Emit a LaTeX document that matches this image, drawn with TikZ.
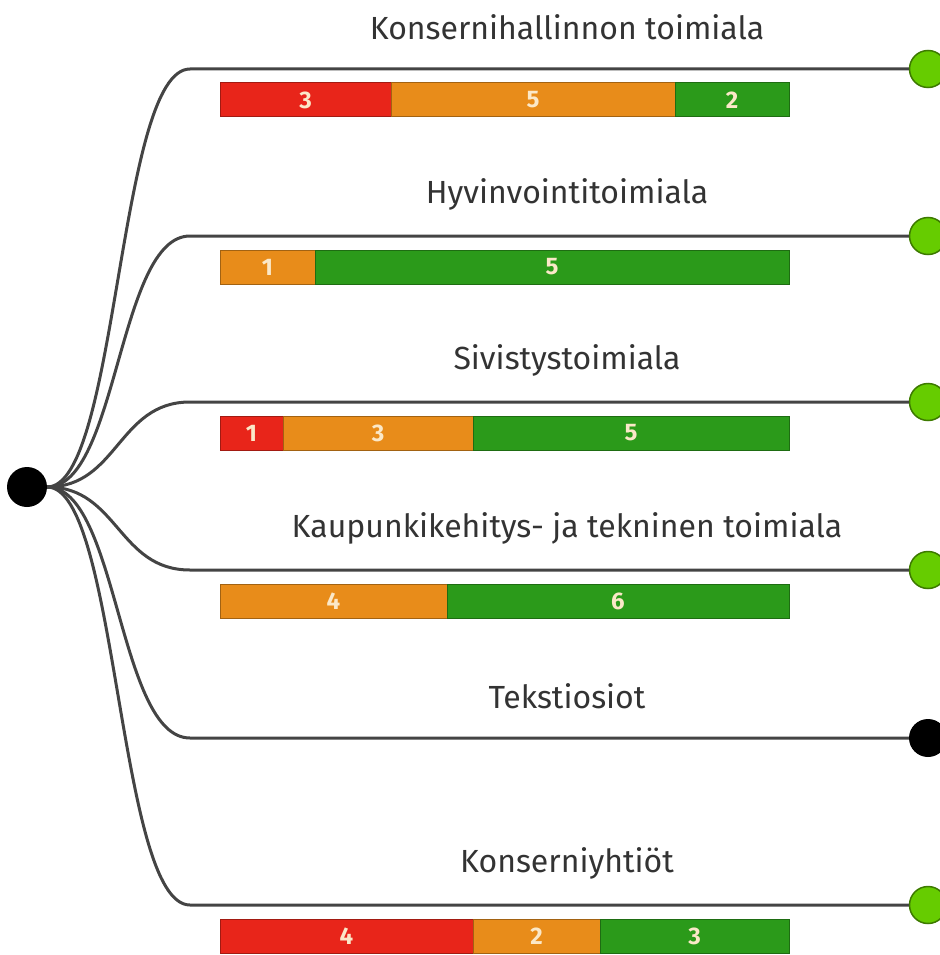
\documentclass[tikz,border=0pt]{standalone}
\usepackage{fontspec}
\setmainfont{Fira Sans}
\definecolor{linegray}{HTML}{444444}
\definecolor{textgray}{HTML}{333333}
\definecolor{barred}{HTML}{E8251A}
\definecolor{barorange}{HTML}{E88C1A}
\definecolor{bargreen}{HTML}{2B9A1A}
\definecolor{leafgreen}{HTML}{66CC00}
\definecolor{numcream}{HTML}{FBE8C8}
\begin{document}
\begin{tikzpicture}[x=1pt,y=-1pt,
    branch/.style = {draw=linegray, line width=3pt},
    branchlabel/.style = {font=\fontsize{32}{36}\selectfont, text=textgray},
    rootdot/.style = {circle, fill=black, minimum size=40pt, inner sep=0pt},
    greenleaf/.style = {circle, fill=leafgreen, draw=leafgreen!60!black, line width=1.5pt, minimum size=37pt, inner sep=0pt},
    blackleaf/.style = {circle, fill=black, minimum size=38pt, inner sep=0pt},
    redseg/.style = {fill=barred, draw=barred!70!black, line width=1pt},
    orangeseg/.style = {fill=barorange, draw=barorange!70!black, line width=1pt},
    greenseg/.style = {fill=bargreen, draw=bargreen!70!black, line width=1pt},
    num/.style = {text=numcream, font=\bfseries\fontsize{24}{24}\selectfont}]
  \useasboundingbox (0,0) rectangle (939,955);

  \node[rootdot] (root) at (27,487) {};

  % branches
  \foreach \name/\y/\txt/\leafstyle in {
      konserni/69/Konsernihallinnon toimiala/greenleaf,
      hyvinvointi/236/Hyvinvointitoimiala/greenleaf,
      sivistys/402/Sivistystoimiala/greenleaf,
      kaupunki/570/Kaupunkikehitys- ja tekninen toimiala/greenleaf,
      teksti/738/Tekstiosiot/blackleaf,
      yhtiot/905/Konserniyhtiöt/greenleaf} {
    \coordinate (\name-start) at (190,\y);
    \node[\leafstyle] (\name-leaf) at (928,\y) {};
    \node[branchlabel] (\name-label) at (567,\y-42) {\txt};
    \draw[branch] (root.east) .. controls (118,487) and (118,\y) .. (\name-start) -- (\name-leaf);
  }

  % bars
  \draw[redseg] (220,83) rectangle node[num] (konserni-r) {3} (391,117);
  \draw[orangeseg] (391,83) rectangle node[num] (konserni-o) {5} (675,117);
  \draw[greenseg] (675,83) rectangle node[num] (konserni-g) {2} (789,117);

  \draw[orangeseg] (220,250) rectangle node[num] (hyvinvointi-o) {1} (315,284);
  \draw[greenseg] (315,250) rectangle node[num] (hyvinvointi-g) {5} (789,284);

  \draw[redseg] (220,416) rectangle node[num] (sivistys-r) {1} (283,450);
  \draw[orangeseg] (283,416) rectangle node[num] (sivistys-o) {3} (473,450);
  \draw[greenseg] (473,416) rectangle node[num] (sivistys-g) {5} (789,450);

  \draw[orangeseg] (220,584) rectangle node[num] (kaupunki-o) {4} (447,618);
  \draw[greenseg] (447,584) rectangle node[num] (kaupunki-g) {6} (789,618);

  \draw[redseg] (220,919) rectangle node[num] (yhtiot-r) {4} (473,953);
  \draw[orangeseg] (473,919) rectangle node[num] (yhtiot-o) {2} (600,953);
  \draw[greenseg] (600,919) rectangle node[num] (yhtiot-g) {3} (789,953);
\end{tikzpicture}
\end{document}
